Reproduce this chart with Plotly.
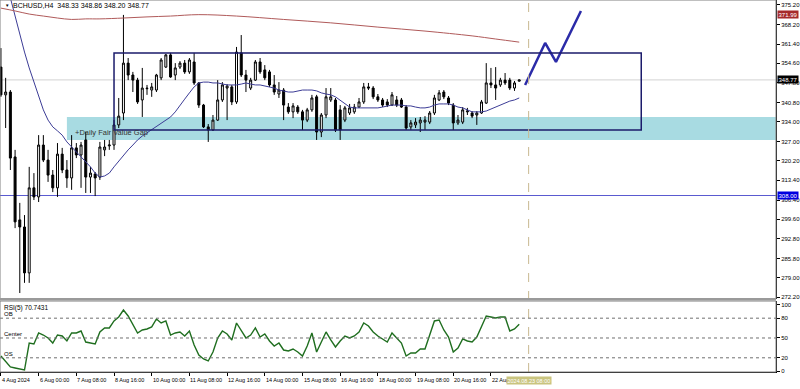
import plotly.graph_objects as go

# ---------------- data ----------------
opens = [353.3, 343.5, 344.5, 321.6, 299.4, 296.9, 280.7, 310.7, 307.5, 325.8,
         320.5, 315.2, 310.7, 322.6, 317.0, 314.2, 324.8, 322.3, 327.6, 314.5,
         315.6, 314.5, 324.1, 325.5, 325.8, 332.9, 337.1, 354.7, 350.5, 348.7,
         341.7, 345.9, 345.2, 345.2, 349.5, 353.3, 357.6, 350.5, 353.3, 354.7,
         351.6, 355.1, 347.7, 339.9, 332.2, 331.1, 334.6, 341.7, 345.9, 346.3,
         341.0, 358.3, 350.5, 345.9, 348.7, 355.1, 352.3, 351.6, 347.0, 343.8,
         345.2, 339.2, 337.5, 339.2, 337.5, 334.6, 338.2, 342.8, 330.4, 336.4,
         341.7, 341.7, 338.2, 334.6, 337.1, 337.5, 339.2, 341.0, 346.3, 345.9,
         342.8, 341.7, 341.0, 339.9, 341.7, 341.7, 339.2, 332.2, 332.9, 333.6,
         333.9, 333.9, 337.1, 341.7, 344.5, 342.4, 339.9, 333.6, 333.9, 337.5,
         337.1, 336.4, 337.1, 340.6, 347.7, 347.0, 347.0, 348.7, 348.7, 345.9,
         348.33]
highs = [360.0, 349.5, 345.2, 324.1, 305.4, 301.1, 318.1, 315.9, 329.3, 329.3,
         324.1, 317.0, 326.5, 324.8, 320.5, 329.3, 326.5, 326.9, 330.4, 318.1,
         316.3, 326.9, 327.6, 327.6, 334.6, 342.4, 371.7, 356.5, 351.6, 349.5,
         353.0, 347.0, 347.7, 350.9, 356.5, 357.9, 358.3, 354.7, 355.4, 355.8,
         356.5, 358.3, 348.0, 340.3, 333.2, 336.4, 348.7, 348.0, 347.3, 347.0,
         360.4, 364.6, 352.3, 349.5, 355.8, 356.5, 354.0, 352.3, 350.5, 348.0,
         345.9, 340.6, 340.6, 339.9, 338.2, 338.9, 343.5, 343.5, 337.1, 345.9,
         345.9, 342.4, 339.9, 339.6, 340.3, 340.3, 342.4, 347.7, 347.7, 346.6,
         343.8, 342.4, 342.0, 344.5, 343.1, 342.4, 339.9, 334.6, 335.3, 335.7,
         336.0, 337.8, 343.5, 345.2, 345.2, 343.1, 340.6, 336.4, 339.2, 338.9,
         337.8, 337.8, 341.7, 354.7, 353.0, 353.3, 349.5, 351.2, 349.5, 348.4,
         348.86]
lows = [342.8, 331.8, 317.0, 296.5, 273.6, 277.2, 277.2, 306.4, 305.7, 319.8,
        312.8, 309.2, 307.5, 315.9, 310.7, 310.0, 321.2, 310.7, 308.9, 308.9,
        307.8, 313.5, 321.9, 324.1, 324.1, 331.8, 334.6, 348.7, 344.5, 340.3,
        335.7, 343.5, 342.8, 344.5, 348.7, 353.0, 349.5, 348.7, 352.6, 350.9,
        350.9, 347.0, 338.9, 331.8, 326.9, 330.8, 334.3, 341.0, 334.6, 339.9,
        340.3, 349.8, 344.5, 345.2, 348.4, 350.9, 348.7, 346.3, 343.5, 342.4,
        334.6, 336.8, 335.3, 336.8, 331.1, 333.9, 337.5, 327.6, 328.6, 335.3,
        341.0, 330.4, 327.6, 333.9, 336.4, 336.8, 338.9, 340.3, 345.2, 342.0,
        341.0, 339.2, 339.2, 339.6, 339.2, 338.9, 331.1, 331.1, 331.8, 330.4,
        331.1, 333.2, 336.4, 341.3, 342.0, 339.9, 331.1, 332.9, 333.2, 336.4,
        335.3, 332.9, 336.8, 340.3, 345.9, 341.7, 346.3, 347.0, 345.2, 344.9,
        348.20]
closes = [343.5, 344.5, 321.2, 298.7, 296.9, 280.7, 310.7, 307.5, 325.8, 320.5,
          315.2, 310.7, 322.6, 317.0, 314.2, 324.8, 322.3, 325.8, 314.5, 315.9,
          314.2, 325.1, 325.1, 325.8, 332.9, 336.0, 354.7, 350.5, 348.7, 341.0,
          345.9, 345.7, 346.3, 350.5, 355.8, 357.6, 349.8, 353.0, 354.7, 351.6,
          355.8, 347.7, 339.9, 332.2, 331.1, 334.6, 341.7, 347.0, 346.6, 341.0,
          358.6, 350.5, 348.7, 348.7, 355.1, 351.6, 349.5, 347.0, 344.5, 345.2,
          339.9, 337.5, 339.6, 337.5, 334.6, 338.2, 342.4, 330.4, 336.4, 342.8,
          342.8, 331.1, 331.1, 338.9, 338.9, 339.2, 341.0, 346.3, 345.9, 342.8,
          341.7, 339.9, 339.9, 343.5, 339.9, 339.2, 331.8, 333.6, 333.9, 334.6,
          334.6, 337.1, 342.4, 344.2, 342.8, 340.6, 333.6, 334.6, 338.2, 337.8,
          336.0, 337.1, 341.0, 347.7, 347.0, 345.9, 348.7, 347.7, 345.9, 347.7,
          348.77]
blue_ma = [389.3, 384.7, 377.7, 371.0, 364.6, 358.6, 353.0, 348.0, 343.5, 338.2,
           334.6, 332.2, 330.8, 329.3, 326.9, 325.1, 323.4, 321.6, 319.8, 318.1,
           315.9, 314.5, 314.9, 315.9, 318.1, 320.2, 322.3, 324.1, 325.8, 327.6,
           329.0, 330.1, 331.5, 332.5, 333.6, 334.6, 335.7, 337.5, 339.9, 342.0,
           344.2, 346.3, 347.7, 348.0, 348.0, 347.7, 347.7, 347.3, 347.0, 347.0,
           347.0, 347.3, 347.7, 347.3, 347.0, 347.0, 346.6, 346.3, 345.9, 345.2,
           344.9, 344.5, 344.5, 344.9, 345.2, 345.2, 345.2, 344.9, 344.2, 343.8,
           343.5, 342.8, 341.7, 340.3, 339.2, 338.9, 338.9, 338.9, 338.9, 338.9,
           338.9, 339.2, 339.6, 339.9, 339.9, 339.9, 339.6, 339.6, 339.2, 338.9,
           338.9, 339.2, 339.9, 340.3, 340.3, 340.3, 339.9, 339.2, 338.9, 338.2,
           337.5, 337.5, 337.5, 337.8, 338.5, 339.2, 339.9, 340.6, 341.3, 341.7,
           342.4]
red_ma_bars = [0, 3, 6, 9, 12, 15, 18, 21, 26, 31, 36, 42, 50, 60, 70, 80, 90, 100, 105, 110]
red_ma = [374.1, 373.1, 372.0, 371.3, 370.6, 370.1, 370.3, 370.3, 370.6, 371.0,
          371.3, 371.8, 371.3, 370.1, 368.9, 367.4, 366.0, 364.3, 363.2, 362.1]
rsi = [22.7, 13.6, 6.1, 4.5, 3.0, 1.5, 42.4, 40.9, 57.6, 54.5,
       50.0, 42.4, 54.5, 53.0, 45.5, 57.6, 57.6, 60.6, 43.9, 42.4,
       40.9, 59.1, 65.2, 65.2, 75.8, 81.8, 92.4, 83.3, 69.7, 57.6,
       62.1, 63.6, 66.7, 78.8, 72.7, 75.8, 54.5, 57.6, 59.1, 53.0,
       60.6, 39.4, 24.2, 18.2, 15.2, 28.8, 50.0, 60.6, 56.1, 47.0,
       72.7, 60.6, 50.0, 54.5, 65.2, 51.5, 56.1, 45.5, 37.9, 42.4,
       31.8, 30.3, 33.3, 28.8, 22.7, 37.9, 57.6, 28.8, 43.9, 59.1,
       47.0, 36.4, 45.5, 53.0, 50.0, 53.0, 59.1, 72.7, 68.2, 59.1,
       53.0, 48.5, 43.9, 57.6, 50.0, 42.4, 22.7, 27.3, 27.3, 33.3,
       33.3, 53.0, 75.8, 77.3, 62.1, 51.5, 28.8, 34.8, 48.5, 45.5,
       43.9, 51.5, 66.7, 83.3, 81.8, 80.3, 81.8, 81.8, 60.6, 63.6,
       70.7431]
tick_bars = [0, 8, 16, 24, 32, 40, 48, 56, 64, 72, 80, 88, 96, 104]
tick_labels = ["4 Aug 2024", "6 Aug 00:00", "7 Aug 08:00", "8 Aug 16:00", "10 Aug 00:00",
               "11 Aug 08:00", "12 Aug 16:00", "14 Aug 00:00", "15 Aug 08:00", "16 Aug 16:00",
               "18 Aug 00:00", "19 Aug 08:00", "20 Aug 16:00", "22 Aug 00:00"]
price_ticks = [375.20, 368.20, 361.40, 354.60, 347.80, 340.80, 334.00, 327.00,
               320.20, 313.40, 306.40, 299.60, 292.80, 285.80, 279.00, 272.20]
rsi_ticks = [0, 20, 50, 80, 100]
rsi_levels = [80, 50, 20]
rsi_level_names = ["OB", "Center", "OS"]
proj_bars = [111.25, 115.5, 117.8, 123.1]
proj_prices = [347.0, 361.8, 355.1, 373.1]
fvg_low, fvg_high, fvg_start = 327.6, 335.7, 14.0
range_low, range_high, range_start, range_end = 331.1, 358.3, 24.0, 135.9
support_level = 308.00
red_level = 371.99
last_price = 348.77
cursor_bar = 112

bars = list(range(len(opens)))

FONT = "Liberation Sans"
PD = [0.2314, 1.0]
RD = [0.0437, 0.2262]
XD = [0.0, 0.97]

fig = go.Figure()
fig.add_trace(go.Candlestick(
    x=bars, open=opens, high=highs, low=lows, close=closes,
    increasing=dict(line=dict(color="black", width=1), fillcolor="white"),
    decreasing=dict(line=dict(color="black", width=1), fillcolor="black"),
    whiskerwidth=0, showlegend=False, hoverinfo="skip", xaxis="x", yaxis="y"))
fig.add_trace(go.Scatter(x=bars, y=blue_ma, mode="lines",
                         line=dict(color="#3c3c96", width=1), showlegend=False,
                         hoverinfo="skip", xaxis="x", yaxis="y"))
fig.add_trace(go.Scatter(x=red_ma_bars, y=red_ma, mode="lines",
                         line=dict(color="#b05a5a", width=1, shape="spline"),
                         showlegend=False, hoverinfo="skip", xaxis="x", yaxis="y"))
fig.add_trace(go.Scatter(x=proj_bars, y=proj_prices, mode="lines",
                         line=dict(color="#2b2ba8", width=2.5), showlegend=False,
                         hoverinfo="skip", xaxis="x", yaxis="y"))
fig.add_trace(go.Scatter(x=bars, y=rsi, mode="lines",
                         line=dict(color="#1f6e1f", width=1.4), showlegend=False,
                         hoverinfo="skip", xaxis="x", yaxis="y2"))

shapes = []
shapes.append(dict(type="rect", xref="x", yref="y", x0=fvg_start, x1=164.5,
                   y0=fvg_low, y1=fvg_high, fillcolor="#a8dbe2",
                   line=dict(width=0), layer="below"))
shapes.append(dict(type="line", xref="paper", yref="y", x0=0, x1=0.97,
                   y0=last_price, y1=last_price, line=dict(color="#d2d2d2", width=1),
                   layer="below"))
shapes.append(dict(type="line", xref="paper", yref="y", x0=0, x1=0.97,
                   y0=support_level, y1=support_level,
                   line=dict(color="#5a5ad0", width=1), layer="below"))
shapes.append(dict(type="rect", xref="x", yref="y", x0=range_start, x1=range_end,
                   y0=range_low, y1=range_high, line=dict(color="#1b1b6b", width=1.5),
                   fillcolor="rgba(0,0,0,0)"))
shapes.append(dict(type="line", xref="x", yref="paper", x0=cursor_bar, x1=cursor_bar,
                   y0=RD[0], y1=1, line=dict(color="#c8b890", width=1, dash="dash")))
for lv in rsi_levels:
    shapes.append(dict(type="line", xref="paper", yref="y2", x0=0, x1=0.97, y0=lv, y1=lv,
                       line=dict(color="#707070", width=1, dash="dot")))
shapes.append(dict(type="rect", xref="paper", yref="paper", x0=0, x1=0.97,
                   y0=PD[0], y1=PD[1], line=dict(color="#808080", width=1)))
shapes.append(dict(type="rect", xref="paper", yref="paper", x0=0, x1=0.97,
                   y0=RD[0], y1=RD[1], line=dict(color="#808080", width=1)))
shapes.append(dict(type="line", xref="paper", yref="paper", x0=0, x1=0.97,
                   y0=PD[0] - 0.001, y1=PD[0] - 0.001, line=dict(color="#9a9a9a", width=2.5)))

ann = []
small = dict(family=FONT, size=5.5, color="black")
axisf = dict(family=FONT, size=6, color="black")
ann.append(dict(xref="paper", yref="paper", x=0.004, y=0.986, xanchor="left",
                yanchor="middle", text="▼", showarrow=False,
                font=dict(family=FONT, size=4.5, color="black")))
ann.append(dict(xref="paper", yref="paper", x=0.014, y=0.986, xanchor="left",
                yanchor="middle", text="BCHUSD,H4  348.33 348.86 348.20 348.77",
                showarrow=False, font=dict(family=FONT, size=7, color="black")))
ann.append(dict(xref="x", yref="y", x=15.3, y=330.1, xanchor="left", yanchor="middle",
                text="+Daily Fair Value Gap", showarrow=False,
                font=dict(family=FONT, size=7.5, color="#333333")))
ann.append(dict(xref="paper", yref="paper", x=0.002, y=RD[1] - 0.003, xanchor="left",
                yanchor="top", text="RSI(5) 70.7431", showarrow=False,
                font=dict(family=FONT, size=6.5, color="black")))
for lv, nm in zip(rsi_levels, rsi_level_names):
    ann.append(dict(xref="paper", yref="y2", x=0.002, y=lv, xanchor="left",
                    yanchor="bottom", text=nm, showarrow=False, font=axisf, yshift=-1))
for b, t in zip(tick_bars, tick_labels):
    ann.append(dict(xref="x", yref="paper", x=b - 0.2, y=0.022, xanchor="left",
                    yanchor="middle", text=t, showarrow=False, font=small))
ann.append(dict(xref="x", yref="paper", x=cursor_bar - 4.9, y=0.022, xanchor="left",
                yanchor="middle", text="2024.08.23 08:00", showarrow=False,
                font=dict(family=FONT, size=5.5, color="white"), bgcolor="#c9c47f",
                borderpad=0.5))
for val, bg in [(red_level, "#a52a2a"), (last_price, "#000000"), (support_level, "#0000e0")]:
    ann.append(dict(xref="paper", yref="y", x=0.971, y=val, xanchor="left",
                    yanchor="middle", text=f"{val:.2f}", showarrow=False,
                    font=dict(family=FONT, size=6, color="white"), bgcolor=bg,
                    borderpad=0.5))

fig.update_layout(
    width=800, height=389, margin=dict(l=0, r=0, t=0, b=0),
    paper_bgcolor="white", plot_bgcolor="white", showlegend=False,
    font=dict(family=FONT, size=6, color="black"),
    boxgap=0.4, hovermode=False, dragmode=False,
    xaxis=dict(domain=XD, range=[-0.2, 164.5], anchor="y2", showgrid=False,
               zeroline=False, showline=True, linecolor="black", ticks="outside",
               ticklen=3, tickcolor="black", tickvals=tick_bars, showticklabels=False,
               rangeslider=dict(visible=False), fixedrange=True),
    yaxis=dict(domain=PD, range=[271.5, 376.96], side="right", anchor="x",
               showgrid=False, zeroline=False, showline=True, linecolor="black",
               ticks="outside", ticklen=3, tickcolor="black", tickvals=price_ticks,
               ticktext=[f"{v:.2f}" for v in price_ticks], tickfont=axisf,
               automargin=False, fixedrange=True),
    yaxis2=dict(domain=RD, range=[-1.5, 106], side="right", anchor="x",
                showgrid=False, zeroline=False, showline=True, linecolor="black",
                ticks="outside", ticklen=3, tickcolor="black", tickvals=rsi_ticks,
                tickfont=axisf, automargin=False, fixedrange=True),
    shapes=shapes, annotations=ann,
)

fig.write_html("out.html", config={"displayModeBar": False, "staticPlot": True},
               post_script="document.body.style.margin='0';document.body.style.overflow='hidden';")
